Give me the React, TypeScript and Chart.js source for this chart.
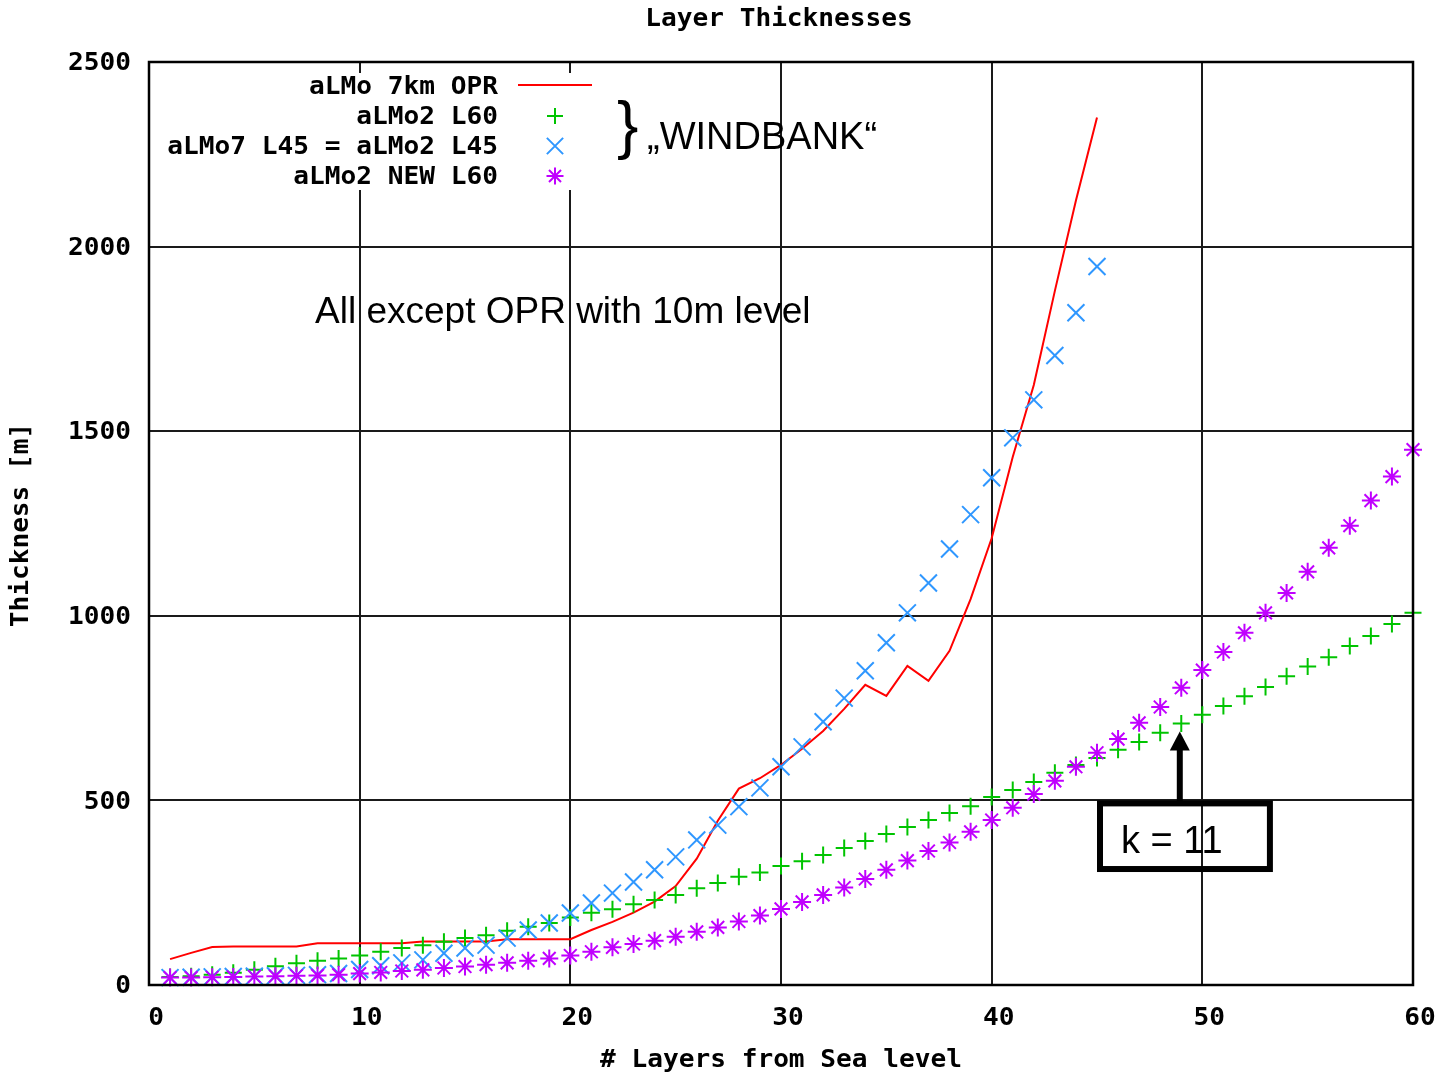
import React, { useEffect, useRef } from 'react';
import { Chart, registerables } from 'chart.js';

Chart.register(...registerables);

// ---------- data ----------
const layersOPR = [1, 2, 3, 4, 5, 6, 7, 8, 9, 10, 11, 12, 13, 14, 15, 16, 17, 18, 19, 20, 21, 22, 23, 24, 25, 26, 27, 28, 29, 30, 31, 32, 33, 34, 35, 36, 37, 38, 39, 40, 41, 42, 43, 44, 45];
const thicknessOPR = [70, 87, 103, 104, 104, 104, 104, 113, 113, 113, 113, 113, 118, 118, 118, 118, 124, 124, 124, 124, 149, 171, 196, 226, 268, 342, 445, 532, 560, 596, 640, 688, 748, 813, 783, 864, 824, 905, 1045, 1210, 1430, 1625, 1880, 2125, 2350];

const layersL60 = [1, 2, 3, 4, 5, 6, 7, 8, 9, 10, 11, 12, 13, 14, 15, 16, 17, 18, 19, 20, 21, 22, 23, 24, 25, 26, 27, 28, 29, 30, 31, 32, 33, 34, 35, 36, 37, 38, 39, 40, 41, 42, 43, 44, 45, 46, 47, 48, 49, 50, 51, 52, 53, 54, 55, 56, 57, 58, 59, 60];
const thicknessL60 = [22, 24, 28, 33, 41, 51, 59, 66, 72, 80, 90, 100, 108, 117, 127, 135, 147, 158, 168, 183, 196, 205, 219, 230, 244, 262, 276, 293, 305, 322, 335, 352, 371, 390, 409, 428, 447, 466, 484, 509, 528, 550, 575, 596, 615, 637, 658, 683, 708, 732, 756, 782, 807, 836, 863, 888, 918, 945, 978, 1008];

const layersL45 = [1, 2, 3, 4, 5, 6, 7, 8, 9, 10, 11, 12, 13, 14, 15, 16, 17, 18, 19, 20, 21, 22, 23, 24, 25, 26, 27, 28, 29, 30, 31, 32, 33, 34, 35, 36, 37, 38, 39, 40, 41, 42, 43, 44, 45];
const thicknessL45 = [20, 21, 22, 23, 24, 25, 26, 28, 31, 42, 52, 60, 68, 86, 100, 108, 127, 149, 168, 195, 222, 249, 279, 312, 347, 393, 433, 483, 534, 591, 645, 713, 777, 851, 927, 1008, 1089, 1181, 1274, 1374, 1482, 1585, 1705, 1821, 1946];

const layersNEW = [1, 2, 3, 4, 5, 6, 7, 8, 9, 10, 11, 12, 13, 14, 15, 16, 17, 18, 19, 20, 21, 22, 23, 24, 25, 26, 27, 28, 29, 30, 31, 32, 33, 34, 35, 36, 37, 38, 39, 40, 41, 42, 43, 44, 45, 46, 47, 48, 49, 50, 51, 52, 53, 54, 55, 56, 57, 58, 59, 60];
const thicknessNEW = [20, 20, 21, 22, 23, 24, 25, 26, 28, 31, 34, 38, 41, 46, 50, 55, 60, 66, 72, 80, 90, 102, 111, 120, 131, 144, 156, 172, 188, 206, 225, 244, 264, 287, 312, 337, 363, 386, 415, 447, 480, 517, 553, 591, 629, 666, 710, 753, 805, 853, 902, 954, 1008, 1062, 1119, 1184, 1244, 1312, 1377, 1450];

const seriesNames = ['aLMo 7km OPR', 'aLMo2 L60', 'aLMo7 L45 = aLMo2 L45', 'aLMo2 NEW L60'];
const seriesColors = ['#ff0000', '#00c400', '#2f97ff', '#c000ff'];

const chartTitle = 'Layer Thicknesses';
const xAxisTitle = '# Layers from Sea level';
const yAxisTitle = 'Thickness [m]';
const annotationText = 'All except OPR with 10m level';
const windbankText = '\u201EWINDBANK\u201C';
const kText = 'k = 11';
const kLayer = 49;

// ---------- helpers ----------
const MONO = 'bold 24px "DejaVu Sans Mono", "Liberation Mono", monospace';
const MONO_SX = 1.09;
const SANS = '"Liberation Sans", Arial, sans-serif';

function mono(ctx: CanvasRenderingContext2D, text: string, x: number, y: number, align: CanvasTextAlign, rot = 0) {
  ctx.save();
  ctx.translate(x, y);
  if (rot) ctx.rotate(rot);
  ctx.scale(MONO_SX, 1);
  ctx.font = MONO;
  ctx.textAlign = align;
  ctx.textBaseline = 'middle';
  ctx.fillStyle = '#000';
  ctx.fillText(text, 0, rot ? 0 : 2);
  ctx.restore();
}

function marker(ctx: CanvasRenderingContext2D, kind: string, x: number, y: number, r: number, color: string) {
  ctx.save();
  ctx.strokeStyle = color;
  ctx.lineWidth = 2;
  ctx.beginPath();
  if (kind === 'cross' || kind === 'star') {
    ctx.moveTo(x - r, y); ctx.lineTo(x + r, y);
    ctx.moveTo(x, y - r); ctx.lineTo(x, y + r);
  }
  if (kind === 'crossRot' || kind === 'star') {
    const d = r * 0.7071;
    ctx.moveTo(x - d, y - d); ctx.lineTo(x + d, y + d);
    ctx.moveTo(x - d, y + d); ctx.lineTo(x + d, y - d);
  }
  ctx.stroke();
  ctx.restore();
}

const overlayPlugin = {
  id: 'overlay',
  afterDraw(chart: any) {
    const ctx: CanvasRenderingContext2D = chart.ctx;
    const { left, right, top, bottom } = chart.chartArea;
    const xs = chart.scales.x;
    const ys = chart.scales.y;
    ctx.save();

    // key box (opaque, hides grid lines)
    ctx.fillStyle = '#fff';
    ctx.fillRect(left + 2, top + 11, 600 - left, 117);

    // plot border
    ctx.strokeStyle = '#000';
    ctx.lineWidth = 2.5;
    ctx.strokeRect(left, top, right - left, bottom - top);

    // tick labels
    xs.ticks.forEach((t: any) => {
      mono(ctx, String(t.value), xs.getPixelForValue(t.value) + 7, bottom + 32, 'center');
    });
    ys.ticks.forEach((t: any) => {
      mono(ctx, String(t.value), left - 18, ys.getPixelForValue(t.value), 'right');
    });

    // titles
    mono(ctx, chartTitle, (left + right) / 2 - 2, 18, 'center');
    mono(ctx, xAxisTitle, (left + right) / 2, bottom + 74, 'center');
    mono(ctx, yAxisTitle, 22, 525, 'center', -Math.PI / 2);

    // key
    const keyX = 498;
    const rows = [86, 116, 146, 176];
    seriesNames.forEach((n, i) => mono(ctx, n, keyX, rows[i], 'right'));
    ctx.strokeStyle = seriesColors[0];
    ctx.lineWidth = 2;
    ctx.beginPath();
    ctx.moveTo(518, rows[0] - 1);
    ctx.lineTo(592, rows[0] - 1);
    ctx.stroke();
    marker(ctx, 'cross', 555, rows[1], 8, seriesColors[1]);
    marker(ctx, 'crossRot', 555, rows[2], 11.5, seriesColors[2]);
    marker(ctx, 'star', 555, rows[3], 8.5, seriesColors[3]);

    // WINDBANK brace + text
    ctx.fillStyle = '#000';
    ctx.textAlign = 'left';
    ctx.textBaseline = 'alphabetic';
    ctx.font = `64px ${SANS}`;
    ctx.fillText('}', 617, 147);
    ctx.font = `38px ${SANS}`;
    ctx.fillText(windbankText, 647, 149);

    // "All except OPR" note
    ctx.font = `37px ${SANS}`;
    ctx.fillText(annotationText, 315, 323);

    // k = 11 box and arrow
    const bx0 = xs.getPixelForValue(45);
    const bx1 = xs.getPixelForValue(53.35);
    const by0 = ys.getPixelForValue(500);
    const by1 = ys.getPixelForValue(306);
    ctx.strokeStyle = '#000';
    ctx.lineWidth = 6;
    ctx.strokeRect(bx0 + 3, by0 + 3, bx1 - bx0 - 6, by1 - by0 - 6);
    ctx.font = `38px ${SANS}`;
    ctx.fillText(kText, bx0 + 24, by0 + 53);

    const ax = xs.getPixelForValue(kLayer - 0.07);
    const tipY = ys.getPixelForValue(thicknessL60[kLayer - 1]) + 8;
    ctx.lineWidth = 6;
    ctx.beginPath();
    ctx.moveTo(ax, by0 + 2);
    ctx.lineTo(ax, tipY + 16);
    ctx.stroke();
    ctx.fillStyle = '#000';
    ctx.beginPath();
    ctx.moveTo(ax, tipY);
    ctx.lineTo(ax - 10, tipY + 19);
    ctx.lineTo(ax + 10, tipY + 19);
    ctx.closePath();
    ctx.fill();

    ctx.restore();
  },
};

function pts(xs: number[], ys: number[]) {
  return xs.map((x, i) => ({ x, y: ys[i] }));
}

export default function App() {
  const ref = useRef<HTMLCanvasElement | null>(null);

  useEffect(() => {
    if (!ref.current) return;
    const gridOpts = { color: '#1a1a1a', lineWidth: 2, drawTicks: false };
    const chart = new Chart(ref.current, {
      type: 'scatter',
      data: {
        datasets: [
          {
            label: seriesNames[0],
            data: pts(layersOPR, thicknessOPR),
            showLine: true,
            borderColor: seriesColors[0],
            borderWidth: 2,
            pointRadius: 0,
            tension: 0,
            order: 4,
            clip: false,
          },
          {
            label: seriesNames[1],
            data: pts(layersL60, thicknessL60),
            showLine: false,
            pointStyle: 'cross',
            pointRadius: 8.5,
            borderColor: seriesColors[1],
            backgroundColor: seriesColors[1],
            pointBorderWidth: 2,
            order: 3,
            clip: false,
          },
          {
            label: seriesNames[2],
            data: pts(layersL45, thicknessL45),
            showLine: false,
            pointStyle: 'crossRot',
            pointRadius: 12,
            borderColor: seriesColors[2],
            backgroundColor: seriesColors[2],
            pointBorderWidth: 2,
            order: 2,
            clip: false,
          },
          {
            label: seriesNames[3],
            data: pts(layersNEW, thicknessNEW),
            showLine: false,
            pointStyle: 'star',
            pointRadius: 9,
            borderColor: seriesColors[3],
            backgroundColor: seriesColors[3],
            pointBorderWidth: 2,
            order: 1,
            clip: false,
          },
        ] as any,
      },
      options: {
        responsive: false,
        animation: false,
        events: [],
        layout: { padding: { left: 149, right: 31, top: 62, bottom: 89 } },
        plugins: {
          legend: { display: false },
          title: { display: false },
          tooltip: { enabled: false },
        },
        scales: {
          x: {
            type: 'linear',
            min: 0,
            max: 60,
            ticks: { stepSize: 10, display: false },
            grid: gridOpts,
            border: { display: false },
          },
          y: {
            type: 'linear',
            min: 0,
            max: 2500,
            ticks: { stepSize: 500, display: false },
            grid: gridOpts,
            border: { display: false },
          },
        },
      } as any,
      plugins: [overlayPlugin],
    });
    return () => chart.destroy();
  }, []);

  return (
    <div style={{ position: 'fixed', left: 0, top: 0, width: 1444, height: 1074, background: '#fff' }}>
      <canvas ref={ref} width={1444} height={1074} style={{ display: 'block' }} />
    </div>
  );
}
